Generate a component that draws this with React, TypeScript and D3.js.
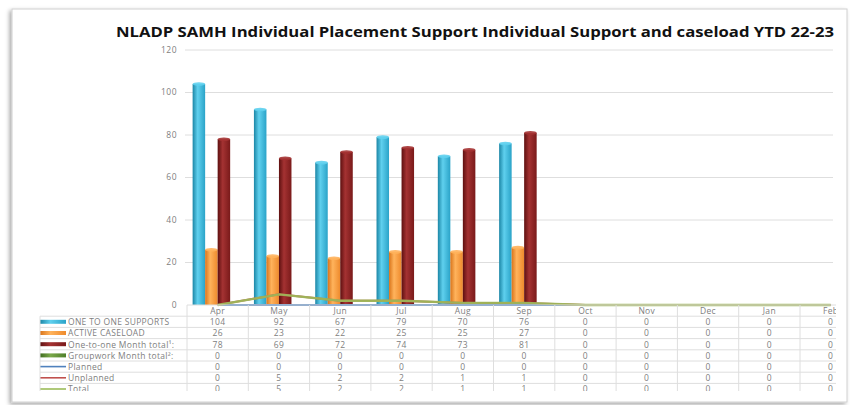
import React from "react";
import * as d3 from "d3";

const categories = ["Apr", "May", "Jun", "Jul", "Aug", "Sep", "Oct", "Nov", "Dec", "Jan", "Feb"];
const oneToOneSupports = [104, 92, 67, 79, 70, 76, 0, 0, 0, 0, 0];
const activeCaseload = [26, 23, 22, 25, 25, 27, 0, 0, 0, 0, 0];
const oneToOneMonthTotal = [78, 69, 72, 74, 73, 81, 0, 0, 0, 0, 0];
const groupworkMonthTotal = [0, 0, 0, 0, 0, 0, 0, 0, 0, 0, 0];
const planned = [0, 0, 0, 0, 0, 0, 0, 0, 0, 0, 0];
const unplanned = [0, 5, 2, 2, 1, 1, 0, 0, 0, 0, 0];
const total = [0, 5, 2, 2, 1, 1, 0, 0, 0, 0, 0];
const yTicks = [0, 20, 40, 60, 80, 100, 120];
const title = "NLADP SAMH Individual Placement Support Individual Support and caseload YTD 22-23";

const barSeries = [
  { name: "ONE TO ONE SUPPORTS", values: oneToOneSupports, grad: "gBlue", c: ["#1b86a6", "#5fd0ee", "#2aa3c8"] },
  { name: "ACTIVE CASELOAD", values: activeCaseload, grad: "gOrange", c: ["#d9741a", "#ffb35c", "#ee8a2c"] },
  { name: "One-to-one Month total\u00b9:", values: oneToOneMonthTotal, grad: "gRed", c: ["#5e1010", "#a43232", "#7a1a1a"] },
  { name: "Groupwork Month total\u00b2:", values: groupworkMonthTotal, grad: "gGreen", c: ["#3f6b1f", "#7aa84a", "#4f7f2a"] },
];
const lineSeries = [
  { name: "Planned", values: planned, color: "#4f81bd" },
  { name: "Unplanned", values: unplanned, color: "#c0504d" },
  { name: "Total", values: total, color: "#9bbb59" },
];

export default function App() {
  const W = 850, H = 405;
  const plotLeft = 187, colW = 61.3;
  const x = d3.scaleBand<string>().domain(categories).range([plotLeft, plotLeft + colW * categories.length]).padding(0);
  const inner = d3.scaleBand<number>().domain([0, 1, 2, 3]).range([0, x.bandwidth()]).paddingOuter(0.45).paddingInner(0);
  const y = d3.scaleLinear().domain([0, 120]).range([305, 50]);
  const clipRight = 836;
  const cx = (c: string) => (x(c) as number) + x.bandwidth() / 2;
  const line = d3.line<number>().x((_, i) => cx(categories[i])).y((v) => y(v));

  const tableTop = 305;
  const rowH = 11.2;
  const rows = [...barSeries.map((s) => ({ name: s.name, values: s.values, kind: "bar", s })), ...lineSeries.map((s) => ({ name: s.name, values: s.values, kind: "line", s }))] as any[];
  const tableBottom = tableTop + rowH * (rows.length + 1);
  const textColor = "#808080";
  const gridColor = "#dedede";

  return (
    <svg width={W} height={H} style={{ position: "absolute", left: 0, top: 0, background: "#fff" }} fontFamily="'Open Sans', sans-serif">
      <defs>
        {barSeries.map((s) => (
          <linearGradient key={s.grad} id={s.grad} x1="0" x2="1" y1="0" y2="0">
            <stop offset="0%" stopColor={s.c[0]} />
            <stop offset="40%" stopColor={s.c[1]} />
            <stop offset="100%" stopColor={s.c[2]} />
          </linearGradient>
        ))}
        <clipPath id="clipR">
          <rect x={0} y={0} width={clipRight} height={H} />
        </clipPath>
        <clipPath id="clipT">
          <rect x={0} y={tableTop - 2} width={clipRight} height={391 - tableTop + 2} />
        </clipPath>
        <filter id="shadow" x="-5%" y="-5%" width="110%" height="110%">
          <feDropShadow dx="-2" dy="2" stdDeviation="2" floodColor="#000" floodOpacity="0.35" />
        </filter>
      </defs>

      <rect x={12} y={9} width={835} height={393} fill="#fff" stroke="#d0d0d0" strokeWidth={1} filter="url(#shadow)" />

      <text x={116} y={37} fontSize={13.5} fontWeight="bold" fill="#111" textLength={718} lengthAdjust="spacingAndGlyphs">
        {title}
      </text>

      <g clipPath="url(#clipR)">
        {yTicks.map((t) => (
          <g key={t}>
            {t > 0 && <line x1={185} x2={833} y1={y(t)} y2={y(t)} stroke={gridColor} strokeWidth={1} />}
            <text x={177} y={y(t)} dy="0.35em" textAnchor="end" fontSize={8.5} letterSpacing={0.5} fill={textColor}>
              {t}
            </text>
          </g>
        ))}

        {barSeries.map((s, si) =>
          s.values.map((v, i) => {
            if (v <= 0) return null;
            const bx = (x(categories[i]) as number) + (inner(si) as number);
            const bw = inner.bandwidth();
            const by = y(v);
            return (
              <g key={si + "-" + i}>
                <rect x={bx} y={by} width={bw} height={y(0) - by} fill={`url(#${s.grad})`} />
                <ellipse cx={bx + bw / 2} cy={by} rx={bw / 2} ry={1.8} fill={s.c[1]} opacity={0.9} />
              </g>
            );
          })
        )}

        {lineSeries.map((s) => (
          <path key={s.name} d={line(s.values) || ""} fill="none" stroke={s.color} strokeWidth={s.name === "Total" ? 2.4 : 2} opacity={s.name === "Total" ? 0.9 : 1} />
        ))}

        <g clipPath="url(#clipT)">
          <line x1={plotLeft} x2={clipRight} y1={tableTop} y2={tableTop} stroke={gridColor} />
          {categories.map((c) => (
            <text key={c} x={cx(c)} y={tableTop + rowH / 2 + 0.5} dy="0.35em" textAnchor="middle" fontSize={8.5} letterSpacing={0.3} fill={textColor}>
              {c}
            </text>
          ))}
          {d3.range(categories.length + 1).map((i) => (
            <line key={"v" + i} x1={plotLeft + i * colW} x2={plotLeft + i * colW} y1={tableTop} y2={tableBottom} stroke={gridColor} />
          ))}
          {rows.map((r, ri) => {
            const ry = tableTop + rowH * (ri + 1);
            return (
              <g key={r.name}>
                <line x1={40} x2={clipRight} y1={ry} y2={ry} stroke={gridColor} />
                {r.kind === "bar" ? (
                  <rect x={40} y={ry + rowH / 2 - 2} width={26} height={4} fill={`url(#${r.s.grad})`} />
                ) : (
                  <line x1={40} x2={66} y1={ry + rowH / 2} y2={ry + rowH / 2} stroke={r.s.color} strokeWidth={1.6} />
                )}
                <text x={68} y={ry + rowH / 2 + 0.5} dy="0.35em" fontSize={8.5} letterSpacing={0.3} fill={textColor}>
                  {r.name}
                </text>
                {r.values.map((v: number, i: number) => (
                  <text key={i} x={cx(categories[i])} y={ry + rowH / 2 + 0.5} dy="0.35em" textAnchor="middle" fontSize={8.5} letterSpacing={0.4} fill={textColor}>
                    {v}
                  </text>
                ))}
              </g>
            );
          })}
          <line x1={40} x2={40} y1={tableTop + rowH} y2={tableBottom} stroke={gridColor} />
        </g>
      </g>
    </svg>
  );
}
